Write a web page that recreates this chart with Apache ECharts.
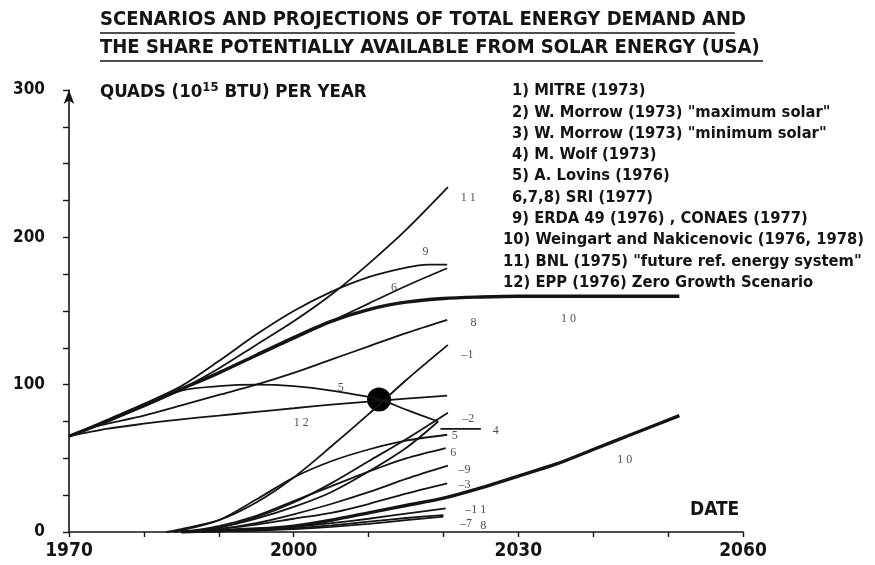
<!DOCTYPE html>
<html><head><meta charset="utf-8">
<script src="https://cdn.jsdelivr.net/npm/echarts@6/dist/echarts.min.js"></script>
<style>html,body{margin:0;padding:0;background:#fff}#c{width:875px;height:565px}</style>
</head><body><div id="c"></div>
<script>
// ---- Total energy demand scenarios (year, quads) ----
const demand11 = [[1970,65],[1975,75],[1980,85],[1985,97],[1990,111],[1995,127],[2000,143],[2005,161],[2010,182],[2015,205],[2020.6,234]];
const demand9  = [[1970,65],[1975,76],[1980,87],[1985,99],[1990,116],[1995,134],[2000,150],[2005,163],[2010,173],[2015,179.5],[2018,181.5],[2020.5,181.5]];
const demand6  = [[1970,65],[1975,75],[1980,86],[1985,97],[1990,108],[1995,119.5],[2000,131],[2005,143],[2010,155],[2015,167],[2020.5,179]];
const demand10 = [[1970,65],[1975,75],[1980,86],[1985,97],[1990,108],[1995,120],[2000,132],[2005,143],[2010,151],[2015,156],[2020,158.5],[2025,159.5],[2030,160],[2051.5,160]];
const demand8  = [[1970,65],[1973,71],[1980,79],[1985,86],[1990,93],[1995,100],[2000,108],[2005,117],[2010,126],[2015,135],[2020.5,144]];
const demand5  = [[1970,65],[1975,75],[1980,86],[1985,96],[1990,99],[1995,100],[2000,99],[2005,96],[2011.4,90],[2015,83],[2019.3,75]];
const demand12 = [[1970,65],[1975,70],[1980,73.5],[1985,76.5],[1990,79],[1995,81.5],[2000,84],[2005,86.5],[2010,88.5],[2015,90.5],[2020.5,92.5]];

// ---- Share potentially available from solar energy (year, quads) ----
const solar1  = [[1983,0],[1985,2],[1990,8],[1995,20],[2000,37],[2005,58],[2010,80],[2015,103],[2020.6,127]];
const solar2  = [[1985,0],[1990,3],[1995,10],[2000,20],[2005,33],[2010,48],[2015,63],[2020.6,81]];
const solar3  = [[1986,0],[1990,2],[1995,5],[2000,9],[2005,13],[2010,19],[2015,26],[2020.5,33]];
const solar4  = [[1985,0],[1990,3],[1995,9],[2000,17],[2005,27],[2010,41],[2015,57],[2019.3,75]];
const solar4b = [[2019.6,70],[2025,70]];
const solar5  = [[1984,0],[1990,8],[1995,22],[2000,37],[2005,48],[2010,56],[2015,62],[2020.5,66]];
const solar6  = [[1985,0],[1990,4],[1995,11],[2000,21],[2005,31],[2010,41],[2015,50],[2020.3,57]];
const solar7  = [[1986,0],[1995,1],[2000,2],[2005,3.5],[2010,5.5],[2015,8],[2020,10.5]];
const solar8  = [[1986,0],[1995,1.5],[2000,2.5],[2005,4.5],[2010,7],[2015,9.5],[2020,11.5]];
const solar9  = [[1985,0],[1990,2],[1995,6],[2000,12],[2005,19],[2010,27],[2015,36],[2020.6,45]];
const solar10 = [[1985,0],[1990,1],[1995,2],[2000,4],[2005,8],[2010,13],[2015,18],[2020,23],[2025,30],[2030,38],[2035,46],[2040,56],[2045,66],[2051.5,79]];
const solar11 = [[1986,0],[1995,1.5],[2000,3.5],[2005,6],[2010,9],[2015,12.5],[2020.3,16]];

const crossPoint = [[2011.4,90]];

// ---- Axis ticks ----
const xLabelYears = [1970, 2000, 2030, 2060];
const yLabelValues = [0, 100, 200, 300];

// ---- Texts ----
const titleLines = ['SCENARIOS AND PROJECTIONS OF TOTAL ENERGY DEMAND AND', 'THE SHARE POTENTIALLY AVAILABLE FROM SOLAR ENERGY (USA)'];
const legendLines = ['1) MITRE (1973)', '2) W. Morrow (1973) "maximum solar"', '3) W. Morrow (1973) "minimum solar"', '4) M. Wolf (1973)', '5) A. Lovins (1976)', '6,7,8) SRI (1977)', '9) ERDA 49 (1976) , CONAES (1977)', '10) Weingart and Nakicenovic (1976, 1978)', '11) BNL (1975) "future ref. energy system"', '12) EPP (1976) Zero Growth Scenario'];

// curve tags (text, year, quads)
const curveTags = [
  ['1 1', 2023.3, 227], ['9', 2017.6, 190], ['6', 2013.4, 166], ['1 0', 2036.7, 145], ['8', 2024, 142],
  ['–1', 2023.2, 120], ['5', 2006.3, 98], ['1 2', 2001, 74], ['–2', 2023.3, 77], ['4', 2027, 68.5],
  ['5', 2021.5, 65], ['6', 2021.3, 54], ['–9', 2022.8, 42], ['–3', 2022.8, 32], ['–1 1', 2024.3, 15],
  ['–7', 2023, 5.5], ['8', 2025.3, 4.5], ['1 0', 2044.2, 49]
];

const sansFont = "'DejaVu Sans Condensed','Liberation Sans Narrow',sans-serif";
const ink = '#141414';

const thin = (data) => ({type:'line', data, smooth:0.3, symbol:'none', silent:true,
  lineStyle:{color:ink, width:1.8}});
const thick = (data) => ({type:'line', data, smooth:0.3, symbol:'none', silent:true,
  lineStyle:{color:ink, width:3.4}});

const series = [
  thin(demand11), thin(demand9), thin(demand6), thick(demand10), thin(demand8), thin(demand5), thin(demand12),
  thin(solar1), thin(solar2), thin(solar3), thin(solar4), thin(solar4b), thin(solar5), thin(solar6),
  thin(solar7), thin(solar8), thin(solar9), thick(solar10), thin(solar11),
  {type:'scatter', data:crossPoint, symbolSize:24, itemStyle:{color:'#000', opacity:1}, silent:true},
  {type:'scatter', symbolSize:0, silent:true,
    data: curveTags.map(t => ({name:t[0], value:[t[1], t[2]]})),
    label:{show:true, position:'inside', formatter:p => p.name, fontFamily:"'Liberation Serif',serif",
      fontSize:12, color:'#222'}}
];

const graphics = [];
titleLines.forEach((t, i) => {
  graphics.push({type:'text', left:100, top:10 + i*28, style:{text:t, font:'bold 20px ' + sansFont, fill:ink}});
});
graphics.push({type:'line', shape:{x1:100, y1:33, x2:735, y2:33}, style:{stroke:ink, lineWidth:1.5}});
graphics.push({type:'line', shape:{x1:100, y1:61, x2:763, y2:61}, style:{stroke:ink, lineWidth:1.5}});
graphics.push({type:'text', left:100, top:81, style:{
  text:'QUADS (10{s|15} BTU) PER YEAR', font:'bold 18.5px ' + sansFont, fill:ink,
  rich:{s:{fontSize:13, fontWeight:'bold', fontFamily:sansFont, verticalAlign:'top', padding:[0,0,10,0]}}}});
legendLines.forEach((t, i) => {
  const twoDigit = /^1\d\)/.test(t);
  graphics.push({type:'text', left: twoDigit ? 503 : 512, top: 83 + i*21.3,
    style:{text:t, font:'bold 16.4px ' + sansFont, fill:ink}});
});
graphics.push({type:'text', left:690, top:501, style:{text:'DATE', font:'bold 19px ' + sansFont, fill:ink}});

const chart = echarts.init(document.getElementById('c'));
chart.setOption({
  animation:false,
  backgroundColor:'#fff',
  grid:{left:69, right:132, top:90, bottom:33},
  xAxis:{type:'value', min:1970, max:2060, interval:10,
    axisLine:{show:true, lineStyle:{color:ink, width:1.6}},
    axisTick:{show:true, length:5, lineStyle:{color:ink, width:1.4}},
    splitLine:{show:false},
    axisLabel:{margin:10, fontSize:19, fontWeight:'bold', fontFamily:sansFont, color:ink,
      formatter:v => xLabelYears.includes(v) ? String(v) : ''}},
  yAxis:{type:'value', min:0, max:300, interval:25,
    axisLine:{show:true, symbol:['none','arrow'], symbolSize:[8,14], lineStyle:{color:ink, width:1.6}},
    axisTick:{show:true, length:6, lineStyle:{color:ink, width:1.4}},
    splitLine:{show:false},
    axisLabel:{margin:24, fontSize:17, fontWeight:'bold', fontFamily:sansFont, color:ink,
      formatter:v => yLabelValues.includes(v) ? String(v) : ''}},
  series,
  graphic:graphics
});
</script></body></html>
